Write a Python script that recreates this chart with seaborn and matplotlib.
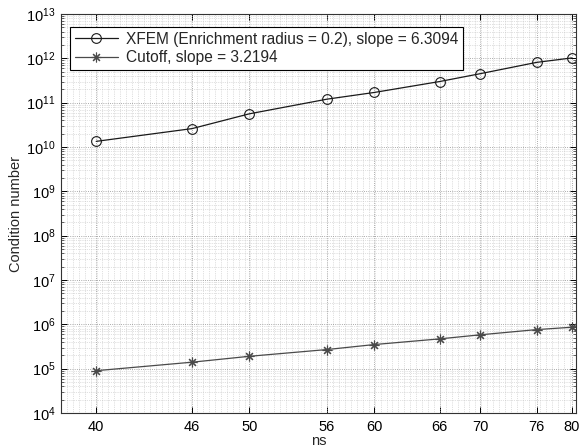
import numpy as np
import pandas as pd
import matplotlib
matplotlib.use("Agg")
import matplotlib.pyplot as plt
import seaborn as sns
from matplotlib.ticker import FixedLocator, LogLocator, NullFormatter, FixedFormatter

# ---- data ----
ns = [40, 46, 50, 56, 60, 66, 70, 76, 80]
xfem = [1.34e10, 2.6e10, 5.6e10, 1.2e11, 1.7e11, 3.0e11, 4.5e11, 8.1e11, 1.02e12]
cutoff = [9.0e4, 1.4e5, 1.9e5, 2.7e5, 3.5e5, 4.7e5, 5.8e5, 7.6e5, 8.6e5]
xfem_label = "XFEM (Enrichment radius = 0.2), slope = 6.3094"
cutoff_label = "Cutoff, slope = 3.2194"
xtick_vals = [40, 46, 50, 56, 60, 66, 70, 76, 80]
ytick_exps = list(range(4, 14))

sns.set_style("ticks")
plt.rcParams['font.family'] = ['Liberation Sans', 'DejaVu Sans']
plt.rcParams['mathtext.default'] = 'regular'

fig = plt.figure(figsize=(5.81, 4.47), dpi=100)
ax = fig.add_axes([61/581, 34/447, 515/581, 399/447])

df1 = pd.DataFrame({"ns": ns, "val": xfem})
df2 = pd.DataFrame({"ns": ns, "val": cutoff})
sns.lineplot(data=df1, x="ns", y="val", ax=ax, color="#1a1a1a", lw=0.9,
             marker="o", markersize=7, markerfacecolor="none",
             markeredgecolor="#1a1a1a", markeredgewidth=0.8, label=xfem_label)
sns.lineplot(data=df2, x="ns", y="val", ax=ax, color="#4a4a4a", lw=0.9,
             marker=(8, 2, 0), markersize=7, markerfacecolor="#4a4a4a",
             markeredgecolor="#4a4a4a", markeredgewidth=0.8, label=cutoff_label)

ax.set_xscale("log")
ax.set_yscale("log")
ax.set_xlim(38, 80.5)
ax.set_ylim(1e4, 1e13)

ax.xaxis.set_major_locator(FixedLocator(xtick_vals))
ax.xaxis.set_major_formatter(FixedFormatter([str(v) for v in xtick_vals]))
minor_x = np.exp(np.linspace(np.log(38), np.log(80.5), 88))
ax.xaxis.set_minor_locator(FixedLocator(minor_x))
ax.xaxis.set_minor_formatter(NullFormatter())

ax.yaxis.set_major_locator(FixedLocator([10.0**e for e in ytick_exps]))
ax.yaxis.set_major_formatter(FixedFormatter([f"$10^{{{e}}}$" for e in ytick_exps]))
ax.yaxis.set_minor_locator(LogLocator(base=10, subs=np.arange(2, 10), numticks=100))
ax.yaxis.set_minor_formatter(NullFormatter())

ax.tick_params(which="major", direction="in", length=4, width=0.7, top=True, right=True,
               labelsize=10.5, colors="black")
ax.tick_params(axis="y", which="minor", direction="in", length=2, width=0.5, left=True, right=True)
ax.tick_params(axis="x", which="minor", length=0, top=False, bottom=False)
ax.tick_params(axis="x", which="major", pad=5)
ax.tick_params(axis="y", which="major", pad=4)

ax.grid(True, which="major", linestyle=":", color="#8f8f8f", linewidth=0.6)
ax.grid(True, which="minor", linestyle=":", color="#c2c2c2", linewidth=0.5)
ax.set_axisbelow(True)

for s in ax.spines.values():
    s.set_visible(True)
    s.set_color("#333333")
    s.set_linewidth(0.8)

ax.set_xlabel("ns", fontsize=10.5, labelpad=0)
ax.set_ylabel("Condition number", fontsize=10.5, labelpad=2)

leg = ax.legend(loc="upper left", bbox_to_anchor=(0.0175, 0.967), fontsize=11.2,
                frameon=True, fancybox=False, framealpha=1, edgecolor="black",
                handlelength=2.8, borderpad=0.3, labelspacing=0.2, handletextpad=0.5,
                borderaxespad=0)
leg.get_frame().set_linewidth(0.8)

fig.savefig("out.png", dpi=100)
